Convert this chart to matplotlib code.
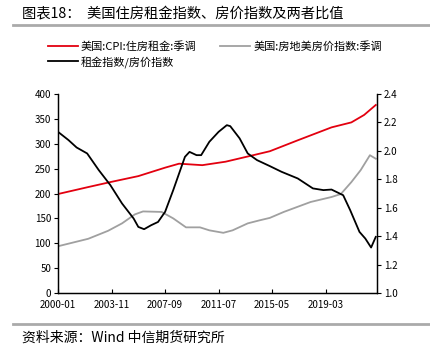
import numpy as np
import pandas as pd
import matplotlib
matplotlib.use("Agg")
from matplotlib import pyplot as plt
from matplotlib.lines import Line2D

plt.rcParams['font.family'] = ['Noto Sans CJK SC', 'DejaVu Sans']

# 美国:CPI:住房租金:季调
rent_dates = ["2000-01", "2002-03", "2003-10", "2005-10", "2007-09", "2008-09",
              "2010-05", "2012-01", "2013-09", "2015-03", "2017-03", "2019-08",
              "2021-01", "2021-12", "2022-10"]
rent_vals = [199, 213, 223, 235, 252, 260, 257, 264, 275, 285, 307, 333,
             343, 358, 378]

# 美国:房地美房价指数:季调
hpi_dates = ["2000-01", "2002-03", "2003-08", "2004-08", "2005-07", "2006-02",
             "2007-06", "2008-04", "2009-03", "2010-03", "2010-11", "2011-11",
             "2012-07", "2013-08", "2014-06", "2015-03", "2016-03", "2018-02",
             "2019-08", "2020-04", "2021-01", "2021-09", "2022-05", "2022-10"]
hpi_vals = [94, 109, 125, 140, 158, 164, 163, 150, 132, 132, 126, 121,
            126, 140, 146, 151, 163, 183, 193, 199, 223, 247, 277, 270]

# 租金指数/房价指数
ratio_dates = ["2000-01", "2000-10", "2001-05", "2002-02", "2002-12", "2003-10",
               "2004-08", "2005-06", "2005-10", "2006-03", "2006-09", "2007-03",
               "2007-09", "2008-04", "2009-02", "2009-06", "2009-12", "2010-04",
               "2010-11", "2011-07", "2012-02", "2012-05", "2013-01", "2013-08",
               "2014-04", "2015-03", "2016-01", "2017-03", "2018-04", "2019-01",
               "2019-08", "2020-06", "2020-12", "2021-08", "2022-01", "2022-06",
               "2022-10"]
ratio_vals = [2.134, 2.076, 2.024, 1.982, 1.865, 1.759, 1.630, 1.524, 1.465,
              1.449, 1.477, 1.500, 1.571, 1.724, 1.958, 1.993, 1.970, 1.970,
              2.064, 2.134, 2.181, 2.174, 2.088, 1.982, 1.935, 1.893, 1.853,
              1.806, 1.736, 1.724, 1.728, 1.688, 1.583, 1.430, 1.383, 1.320,
              1.395]

tick_labels = ["2000-01", "2003-11", "2007-09", "2011-07", "2015-05", "2019-03"]

fig = plt.figure(figsize=(4.31, 3.47), dpi=100)
ax = fig.add_axes([0.1346, 0.1556, 0.74, 0.5734])
ax2 = ax.twinx()

red = "#E3000F"
gray = "#A0A0A0"

l1, = ax.plot(pd.to_datetime(rent_dates), rent_vals, color=red, lw=1.3)
l2, = ax.plot(pd.to_datetime(hpi_dates), hpi_vals, color=gray, lw=1.3)
l3, = ax2.plot(pd.to_datetime(ratio_dates), ratio_vals, color="black", lw=1.3)

ax.set_xlim(pd.Timestamp("2000-01-01"), pd.Timestamp("2022-11-01"))
ax.set_ylim(0, 400)
ax.set_yticks(np.arange(0, 401, 50))
ax2.set_ylim(1.0, 2.4)
ax2.set_yticks(np.arange(1.0, 2.41, 0.2))
ax2.yaxis.set_major_formatter(matplotlib.ticker.FormatStrFormatter('%.1f'))

ax.set_xticks(pd.to_datetime(tick_labels))
ax.set_xticklabels(tick_labels)

for a in (ax, ax2):
    a.spines['top'].set_visible(False)
    for s in a.spines.values():
        s.set_linewidth(0.9)
ax.tick_params(axis='x', direction='in', length=3, labelsize=7, pad=5)
ax.tick_params(axis='y', direction='out', length=3, labelsize=7, pad=2)
ax2.tick_params(axis='y', direction='out', length=3, labelsize=7, pad=2)

fig.legend([l1, l3, l2], ["美国:CPI:住房租金:季调", "租金指数/房价指数", "美国:房地美房价指数:季调"],
           ncol=2, loc='upper left', bbox_to_anchor=(0.1, 0.895), frameon=False,
           fontsize=8, handlelength=2.7, handletextpad=0.25, columnspacing=2.2,
           labelspacing=0.35, borderaxespad=0)

fig.text(0.05, 0.962, "图表18：  美国住房租金指数、房价指数及两者比值", fontsize=10.3,
         va='center', ha='left')
fig.add_artist(Line2D([0.03, 1.0], [0.928, 0.928], color="#AAAAAA", lw=2))
fig.add_artist(Line2D([0.03, 1.0], [0.066, 0.066], color="#AAAAAA", lw=2))
fig.text(0.05, 0.028, "资料来源：Wind 中信期货研究所", fontsize=10, va='center', ha='left')

fig.savefig("out.png", dpi=100)
